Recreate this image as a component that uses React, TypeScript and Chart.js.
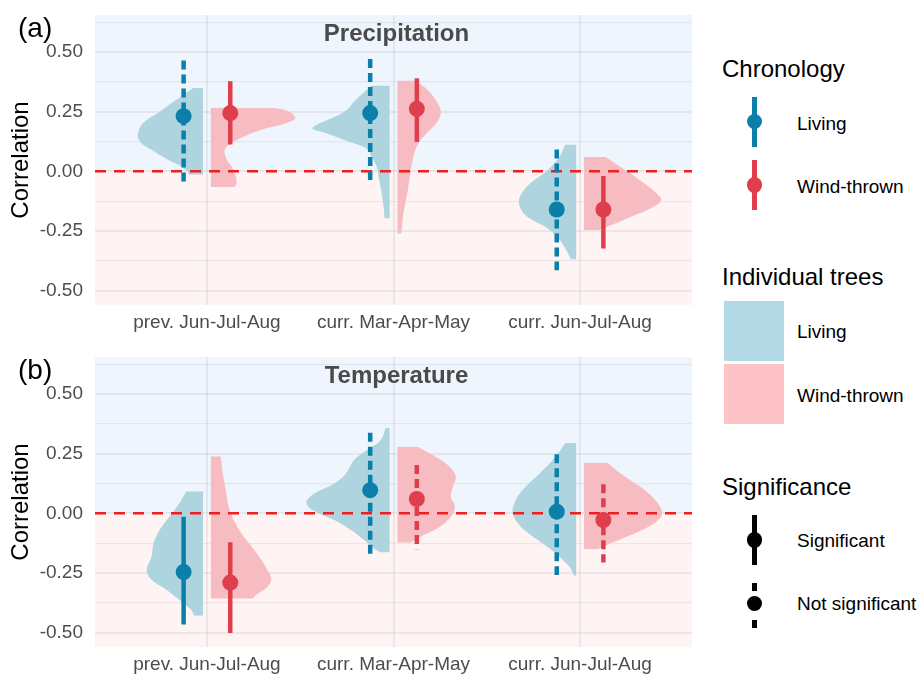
import React, { useEffect, useRef } from "react";
import { Chart, registerables } from "chart.js";

Chart.register(...registerables);

// ---------------------------------------------------------------------------
// Data
// ---------------------------------------------------------------------------

const periods = ["prev. Jun-Jul-Aug", "curr. Mar-Apr-May", "curr. Jun-Jul-Aug"];

// Chronology correlations (point estimate and interval), precipitation
const precipLivingR = [0.231, 0.244, -0.16];
const precipLivingLo = [-0.045, -0.038, -0.414];
const precipLivingHi = [0.464, 0.471, 0.092];
const precipLivingSig = [false, false, false];
const precipWindR = [0.244, 0.262, -0.16];
const precipWindLo = [0.112, 0.123, -0.323];
const precipWindHi = [0.377, 0.39, -0.02];
const precipWindSig = [true, true, true];

// Chronology correlations, temperature
const tempLivingR = [-0.246, 0.097, 0.007];
const tempLivingLo = [-0.466, -0.17, -0.258];
const tempLivingHi = [-0.014, 0.338, 0.248];
const tempLivingSig = [true, false, false];
const tempWindR = [-0.29, 0.06, -0.028];
const tempWindLo = [-0.501, -0.15, -0.206];
const tempWindHi = [-0.121, 0.202, 0.122];
const tempWindSig = [true, false, false];

// Individual-tree correlation densities (half violins):
// levels = correlation values, widths = half-width in category units
const precipLivingLevels = [
  [0.349, 0.32, 0.3, 0.25, 0.2, 0.15, 0.12, 0.09, 0.05, 0.025, 0.0, -0.014],
  [0.36, 0.297, 0.255, 0.22, 0.19, 0.178, 0.158, 0.123, 0.095, 0.06, 0.02, -0.027, -0.093, -0.149, -0.198],
  [0.112, 0.06, 0.004, -0.052, -0.107, -0.149, -0.191, -0.233, -0.275, -0.323, -0.369],
];
const precipLivingWidths = [
  [0.053, 0.106, 0.143, 0.233, 0.324, 0.35, 0.334, 0.276, 0.191, 0.127, 0.085, 0.074],
  [0.095, 0.185, 0.233, 0.318, 0.403, 0.414, 0.334, 0.212, 0.122, 0.095, 0.069, 0.058, 0.042, 0.032, 0.027],
  [0.058, 0.09, 0.154, 0.249, 0.302, 0.302, 0.26, 0.164, 0.101, 0.058, 0.027],
];
const precipWindLevels = [
  [0.266, 0.262, 0.255, 0.24, 0.22, 0.2, 0.17, 0.12, 0.09, 0.05, 0.02, -0.02, -0.05, -0.066],
  [0.381, 0.339, 0.297, 0.248, 0.2, 0.158, 0.116, 0.06, -0.01, -0.093, -0.177, -0.261],
  [0.06, 0.018, -0.038, -0.087, -0.121, -0.156, -0.191, -0.226, -0.247],
];
const precipWindWidths = [
  [0.324, 0.366, 0.403, 0.44, 0.451, 0.398, 0.255, 0.111, 0.074, 0.085, 0.111, 0.133, 0.138, 0.127],
  [0.101, 0.164, 0.207, 0.233, 0.207, 0.154, 0.111, 0.085, 0.069, 0.053, 0.032, 0.021],
  [0.117, 0.196, 0.302, 0.382, 0.414, 0.355, 0.249, 0.143, 0.08],
];
const tempLivingLevels = [
  [0.093, 0.042, -0.014, -0.07, -0.125, -0.181, -0.237, -0.278, -0.32, -0.362, -0.404, -0.429],
  [0.359, 0.306, 0.264, 0.223, 0.167, 0.125, 0.083, 0.048, 0.014, -0.028, -0.07, -0.111, -0.146, -0.164],
  [0.295, 0.236, 0.167, 0.111, 0.056, 0.0, -0.056, -0.111, -0.167, -0.223, -0.262],
];
const tempLivingWidths = [
  [0.09, 0.127, 0.18, 0.233, 0.265, 0.276, 0.302, 0.276, 0.196, 0.127, 0.064, 0.048],
  [0.021, 0.048, 0.122, 0.191, 0.233, 0.297, 0.403, 0.446, 0.414, 0.297, 0.207, 0.138, 0.085, 0.048],
  [0.058, 0.111, 0.196, 0.271, 0.324, 0.34, 0.297, 0.207, 0.111, 0.037, 0.011],
];
const tempWindLevels = [
  [0.239, 0.167, 0.097, 0.028, -0.028, -0.084, -0.139, -0.195, -0.251, -0.278, -0.313, -0.341, -0.358],
  [0.278, 0.236, 0.195, 0.153, 0.111, 0.069, 0.028, -0.014, -0.056, -0.097, -0.123],
  [0.211, 0.167, 0.111, 0.056, 0.0, -0.042, -0.084, -0.125, -0.15],
];
const tempWindWidths = [
  [0.053, 0.064, 0.08, 0.095, 0.122, 0.164, 0.218, 0.271, 0.313, 0.324, 0.297, 0.244, 0.223],
  [0.111, 0.207, 0.281, 0.313, 0.297, 0.286, 0.308, 0.286, 0.228, 0.127, 0.069],
  [0.127, 0.196, 0.302, 0.382, 0.419, 0.377, 0.271, 0.143, 0.074],
];

// ---------------------------------------------------------------------------
// Styling
// ---------------------------------------------------------------------------

const FONT = '"Liberation Sans", Arial, Helvetica, sans-serif';
const LIVING_POINT = "#0B7EAA";
const WIND_POINT = "#DF3F4D";
const LIVING_FILL = "#ADD4DF";
const WIND_FILL = "#F6BCC1";
const LIVING_KEY = "#B3DAE4";
const WIND_KEY = "#FEC3C7";
const BG_POS = "#EFF5FC";
const BG_NEG = "#FEF4F3";
const GRID = "rgba(60, 60, 75, 0.075)";
const TICK_TEXT = "#4D4D4D";

const X_MIN = 0.4;
const X_MAX = 3.6;
const Y_MIN = -0.56;
const Y_MAX = 0.655;
const DODGE = 0.125; // offset of each chronology from the period centre
const EDGE_GAP = 0.021; // gap between half violin flat edge and period centre
const BAR_WIDTH = 4.5;
const BAR_DASH = [9, 5];
const POINT_RADIUS = 8;

type Panel = {
  livingR: number[];
  livingLo: number[];
  livingHi: number[];
  livingSig: boolean[];
  windR: number[];
  windLo: number[];
  windHi: number[];
  windSig: boolean[];
  livingLevels: number[][];
  livingWidths: number[][];
  windLevels: number[][];
  windWidths: number[][];
};

const precipPanel: Panel = {
  livingR: precipLivingR,
  livingLo: precipLivingLo,
  livingHi: precipLivingHi,
  livingSig: precipLivingSig,
  windR: precipWindR,
  windLo: precipWindLo,
  windHi: precipWindHi,
  windSig: precipWindSig,
  livingLevels: precipLivingLevels,
  livingWidths: precipLivingWidths,
  windLevels: precipWindLevels,
  windWidths: precipWindWidths,
};

const tempPanel: Panel = {
  livingR: tempLivingR,
  livingLo: tempLivingLo,
  livingHi: tempLivingHi,
  livingSig: tempLivingSig,
  windR: tempWindR,
  windLo: tempWindLo,
  windHi: tempWindHi,
  windSig: tempWindSig,
  livingLevels: tempLivingLevels,
  livingWidths: tempLivingWidths,
  windLevels: tempWindLevels,
  windWidths: tempWindWidths,
};

const isMajor = (v: number) => Math.abs(v * 4 - Math.round(v * 4)) < 1e-6;

// Blue shading above zero, pink below, painted under the grid
const signBackground = {
  id: "signBackground",
  beforeDraw(chart: any) {
    const { ctx, chartArea: a, scales } = chart;
    const y0 = scales.y.getPixelForValue(0);
    ctx.save();
    ctx.fillStyle = BG_POS;
    ctx.fillRect(a.left, a.top, a.right - a.left, y0 - a.top);
    ctx.fillStyle = BG_NEG;
    ctx.fillRect(a.left, y0, a.right - a.left, a.bottom - y0);
    ctx.restore();
  },
};

function buildConfig(p: Panel): any {
  const datasets: any[] = [];

  // half violins: living to the left of the centre, wind-thrown to the right
  periods.forEach((_, i) => {
    const c = i + 1;
    const leftEdge = c - EDGE_GAP;
    const rightEdge = c + EDGE_GAP;
    datasets.push({
      type: "line",
      indexAxis: "y",
      data: p.livingLevels[i].map((v, k) => ({ x: leftEdge - p.livingWidths[i][k], y: v })),
      fill: { value: leftEdge },
      backgroundColor: LIVING_FILL,
      borderColor: "rgba(0,0,0,0)",
      borderWidth: 0,
      pointRadius: 0,
      tension: 0.35,
      order: 3,
    });
    datasets.push({
      type: "line",
      indexAxis: "y",
      data: p.windLevels[i].map((v, k) => ({ x: rightEdge + p.windWidths[i][k], y: v })),
      fill: { value: rightEdge },
      backgroundColor: WIND_FILL,
      borderColor: "rgba(0,0,0,0)",
      borderWidth: 0,
      pointRadius: 0,
      tension: 0.35,
      order: 3,
    });
  });

  // zero reference line
  datasets.push({
    type: "line",
    data: [
      { x: X_MIN, y: 0 },
      { x: X_MAX, y: 0 },
    ],
    borderColor: "#F01E1E",
    borderWidth: 2.5,
    borderDash: [11, 8],
    pointRadius: 0,
    fill: false,
    order: 2,
  });

  // chronology intervals
  periods.forEach((_, i) => {
    const c = i + 1;
    const groups = [
      { x: c - DODGE, lo: p.livingLo[i], hi: p.livingHi[i], sig: p.livingSig[i], color: LIVING_POINT },
      { x: c + DODGE, lo: p.windLo[i], hi: p.windHi[i], sig: p.windSig[i], color: WIND_POINT },
    ];
    groups.forEach((g) => {
      datasets.push({
        type: "line",
        data: [
          { x: g.x, y: g.hi },
          { x: g.x, y: g.lo },
        ],
        borderColor: g.color,
        borderWidth: BAR_WIDTH,
        borderDash: g.sig ? [] : BAR_DASH,
        borderCapStyle: "butt",
        pointRadius: 0,
        fill: false,
        order: 1,
      });
    });
  });

  // chronology point estimates
  datasets.push({
    type: "line",
    showLine: false,
    data: periods.map((_, i) => ({ x: i + 1 - DODGE, y: p.livingR[i] })),
    pointRadius: POINT_RADIUS,
    pointBackgroundColor: LIVING_POINT,
    pointBorderWidth: 0,
    order: 0,
  });
  datasets.push({
    type: "line",
    showLine: false,
    data: periods.map((_, i) => ({ x: i + 1 + DODGE, y: p.windR[i] })),
    pointRadius: POINT_RADIUS,
    pointBackgroundColor: WIND_POINT,
    pointBorderWidth: 0,
    order: 0,
  });

  return {
    type: "line",
    data: { datasets },
    plugins: [signBackground],
    options: {
      responsive: false,
      animation: false,
      events: [],
      layout: { padding: { top: 15, right: 2, left: 0, bottom: 0 } },
      plugins: {
        legend: { display: false },
        tooltip: { enabled: false },
        title: { display: false },
      },
      scales: {
        x: {
          type: "linear",
          min: X_MIN,
          max: X_MAX,
          afterFit: (s: any) => {
            s.height = 35;
            s.paddingLeft = 0;
            s.paddingRight = 0;
          },
          border: { display: false },
          grid: { color: GRID, lineWidth: 2, drawTicks: false },
          ticks: {
            stepSize: 1,
            includeBounds: false,
            autoSkip: false,
            maxRotation: 0,
            padding: 6,
            color: TICK_TEXT,
            font: { family: FONT, size: 19 },
            callback: (v: any) => periods[Math.round(Number(v)) - 1] ?? "",
          },
        },
        y: {
          type: "linear",
          min: Y_MIN,
          max: Y_MAX,
          afterFit: (s: any) => {
            s.width = 95;
            s.paddingTop = 0;
            s.paddingBottom = 0;
          },
          border: { display: false },
          grid: {
            color: GRID,
            lineWidth: (ctx: any) => (ctx.tick && isMajor(ctx.tick.value) ? 2 : 1.3),
            drawTicks: false,
          },
          title: {
            display: true,
            text: "Correlation",
            color: "#000000",
            font: { family: FONT, size: 24 },
            padding: { top: 7, bottom: 0 },
          },
          ticks: {
            stepSize: 0.125,
            includeBounds: false,
            autoSkip: false,
            padding: 12,
            color: TICK_TEXT,
            font: { family: FONT, size: 19 },
            callback: (v: any) => (isMajor(Number(v)) ? Number(v).toFixed(2) : ""),
          },
        },
      },
    },
  };
}

function FacetPanel({ top, tag, title, panel }: { top: number; tag: string; title: string; panel: Panel }) {
  const ref = useRef<HTMLCanvasElement>(null);
  useEffect(() => {
    if (!ref.current) return;
    const chart = new Chart(ref.current, buildConfig(panel));
    return () => chart.destroy();
  }, [panel]);
  return (
    <div style={{ position: "absolute", left: 0, top, width: 700, height: 340 }}>
      <canvas ref={ref} width={700} height={340} style={{ display: "block", width: 700, height: 340 }} />
      <div
        style={{
          position: "absolute",
          left: 18,
          top: 14,
          fontFamily: FONT,
          fontSize: 28,
          lineHeight: "28px",
          color: "#000",
          whiteSpace: "nowrap",
        }}
      >
        {tag}
      </div>
      <div
        style={{
          position: "absolute",
          left: 95,
          width: 603,
          top: 21,
          textAlign: "center",
          fontFamily: FONT,
          fontSize: 24,
          fontWeight: "bold",
          lineHeight: "24px",
          color: "#4A4A4A",
          whiteSpace: "nowrap",
        }}
      >
        {title}
      </div>
    </div>
  );
}

const textBase: React.CSSProperties = {
  position: "absolute",
  fontFamily: FONT,
  color: "#000",
  whiteSpace: "nowrap",
};

function LegendTitle({ top, children }: { top: number; children: React.ReactNode }) {
  return <div style={{ ...textBase, left: 722, top, fontSize: 24, lineHeight: "24px" }}>{children}</div>;
}

function LegendLabel({ top, children }: { top: number; children: React.ReactNode }) {
  return <div style={{ ...textBase, left: 797, top, fontSize: 19, lineHeight: "19px" }}>{children}</div>;
}

function Stick({ y1, y2, color }: { y1: number; y2: number; color: string }) {
  return (
    <div style={{ position: "absolute", left: 752, top: y1, width: 4.5, height: y2 - y1, background: color }} />
  );
}

function Dot({ cy, color }: { cy: number; color: string }) {
  return (
    <div
      style={{
        position: "absolute",
        left: 754.3 - 7.6,
        top: cy - 7.6,
        width: 15.2,
        height: 15.2,
        borderRadius: "50%",
        background: color,
      }}
    />
  );
}

function Legend() {
  return (
    <>
      <LegendTitle top={56.5}>Chronology</LegendTitle>
      <Stick y1={96.7} y2={146.7} color={LIVING_POINT} />
      <Dot cy={121.7} color={LIVING_POINT} />
      <LegendLabel top={114}>Living</LegendLabel>
      <Stick y1={160} y2={210} color={WIND_POINT} />
      <Dot cy={185} color={WIND_POINT} />
      <LegendLabel top={177.2}>Wind-thrown</LegendLabel>

      <LegendTitle top={264.7}>Individual trees</LegendTitle>
      <div style={{ position: "absolute", left: 724, top: 301, width: 60, height: 60, background: LIVING_KEY }} />
      <LegendLabel top={322.2}>Living</LegendLabel>
      <div style={{ position: "absolute", left: 724, top: 364, width: 60, height: 60, background: WIND_KEY }} />
      <LegendLabel top={385.6}>Wind-thrown</LegendLabel>

      <LegendTitle top={474.7}>Significance</LegendTitle>
      <Stick y1={515} y2={565} color="#000" />
      <Dot cy={540} color="#000" />
      <LegendLabel top={531}>Significant</LegendLabel>
      <Stick y1={582.7} y2={590.7} color="#000" />
      <Stick y1={620} y2={628.3} color="#000" />
      <Dot cy={603.7} color="#000" />
      <LegendLabel top={594}>Not significant</LegendLabel>
    </>
  );
}

export default function App() {
  return (
    <div
      style={{
        position: "absolute",
        left: 0,
        top: 0,
        width: 922,
        height: 676,
        background: "#FFFFFF",
        overflow: "hidden",
      }}
    >
      <FacetPanel top={0} tag="(a)" title="Precipitation" panel={precipPanel} />
      <FacetPanel top={342} tag="(b)" title="Temperature" panel={tempPanel} />
      <Legend />
    </div>
  );
}
